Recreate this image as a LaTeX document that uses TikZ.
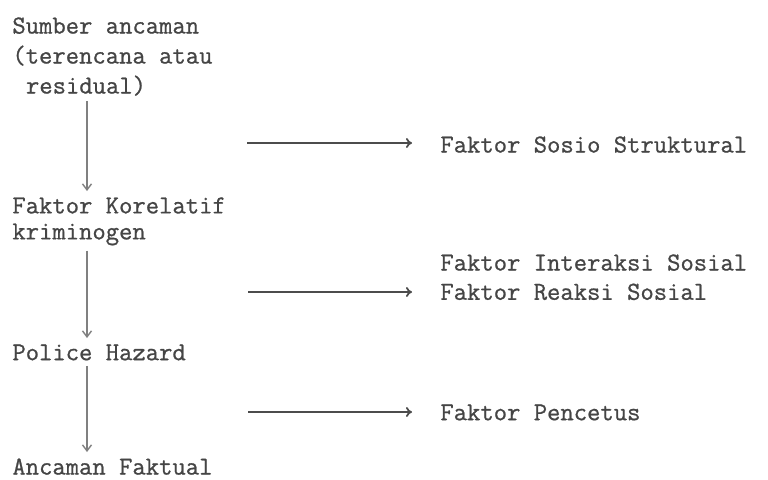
\documentclass[tikz,border=0pt]{standalone}
\usepackage{fontspec}
\usepackage{xcolor}
\usepackage{tikz}
\usetikzlibrary{arrows.meta, positioning}

\newfontfamily\twfont{Latin Modern Mono}[FakeBold=0.8]
\definecolor{ink}{HTML}{454545}

\begin{document}
\begin{tikzpicture}[x=0.5pt, y=-0.5pt,
    every node/.style={inner sep=0pt, anchor=north west, text=ink, align=left,
      font=\twfont\fontsize{12.95}{14}\selectfont},
    varrow/.style={-{Straight Barb[length=3pt, width=4.5pt]}, draw=black!50, line width=0.7pt,
      shorten <=2.5pt, shorten >=3pt},
    harrow/.style={-{To[length=3pt, width=5pt]}, draw=black!70, line width=0.9pt}]
    \useasboundingbox (0,0) rectangle (768,479);
    % left column
    \node[font=\twfont\fontsize{12.95}{15}\selectfont] (sumber) at (12,17) {Sumber ancaman\\(terencana atau\\\hspace*{6.8pt}residual)};
    \node[font=\twfont\fontsize{12.95}{13}\selectfont] (korelatif) at (12,197) {Faktor Korelatif\\kriminogen};
    \node (police) at (12,344) {Police Hazard};
    \node (ancaman) at (12,458) {Ancaman Faktual};
    \coordinate (kol) at (87,0);
    \draw[varrow] (sumber.south -| kol) -- (korelatif.north -| kol);
    \draw[varrow] (korelatif.south -| kol) -- (police.north -| kol);
    \draw[varrow] (police.south -| kol) -- (ancaman.north -| kol);
    % right column
    \node (sosio) at (440,136) {Faktor Sosio Struktural};
    \node (interaksi) at (440,254) {Faktor Interaksi Sosial};
    \node[below right=6pt and 0pt of interaksi.south west] (reaksi) {Faktor Reaksi Sosial};
    \node (pencetus) at (440,404) {Faktor Pencetus};
    \coordinate (h1) at (247,143);
    \coordinate (h2) at (248,292);
    \coordinate (h3) at (248,412);
    \draw[harrow, shorten >=14pt] (h1) -- (h1 -| sosio.west);
    \draw[harrow, shorten >=14pt] (h2) -- (h2 -| reaksi.west);
    \draw[harrow, shorten >=14pt] (h3) -- (h3 -| pencetus.west);
  \end{tikzpicture}
\end{document}
